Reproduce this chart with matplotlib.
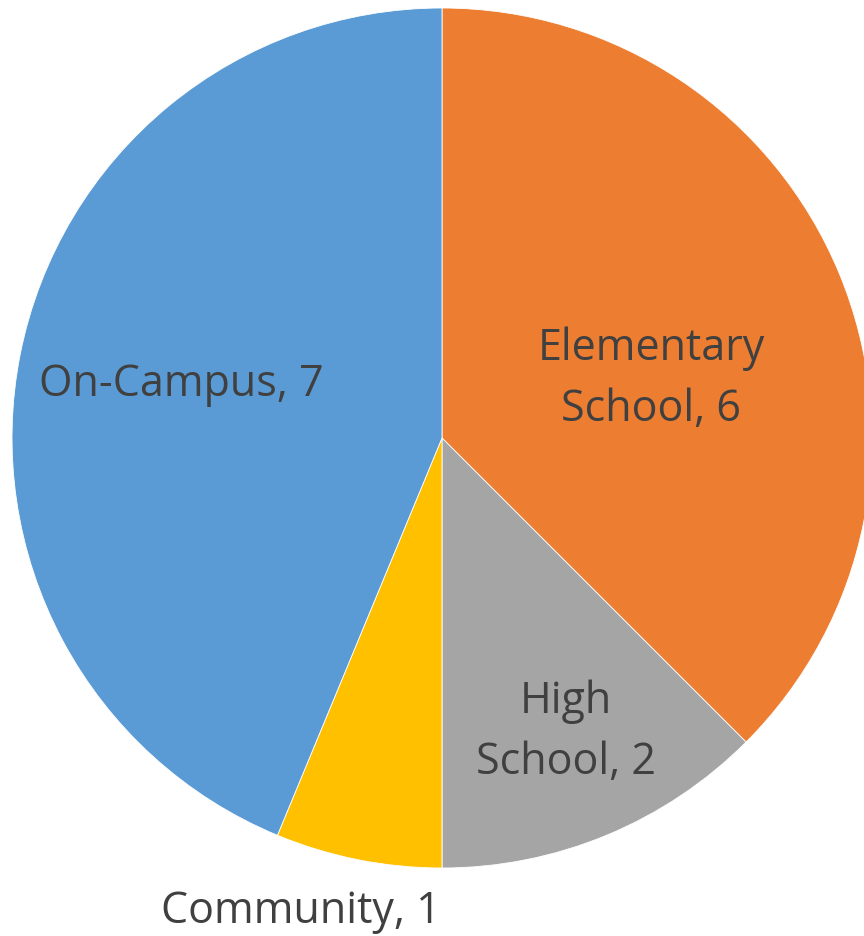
import matplotlib.pyplot as plt

# placement counts
labels = ["Elementary\nSchool, 6", "High\nSchool, 2", "Community, 1", "On-Campus, 7"]
values = [6, 2, 1, 7]
colors = ["#ED7D31", "#A5A5A5", "#FFC000", "#5B9BD5"]

# label spots in data units (radius = 1)
label_pos = [(0.486, 0.136), (0.288, -0.684), (-0.328, -1.102), (-0.607, 0.123)]

W, H = 864, 936
cx, cy, R = 442, 438, 430

fig = plt.figure(figsize=(W / 100, H / 100), dpi=100)
ax = fig.add_axes([0, 0, 1, 1])

ax.pie(values, colors=colors, startangle=90, counterclock=False, radius=1,
       wedgeprops=dict(edgecolor="white", linewidth=0.6))

for txt, (x, y) in zip(labels, label_pos):
    ax.text(x, y, txt, ha="center", va="center", fontsize=31, color="#404040",
            family=["Open Sans", "DejaVu Sans"], linespacing=1.5)

ax.set_xlim(-cx / R, (W - cx) / R)
ax.set_ylim(-(H - cy) / R, cy / R)
ax.set_aspect("equal")
ax.axis("off")

fig.savefig("out.png", dpi=100)
